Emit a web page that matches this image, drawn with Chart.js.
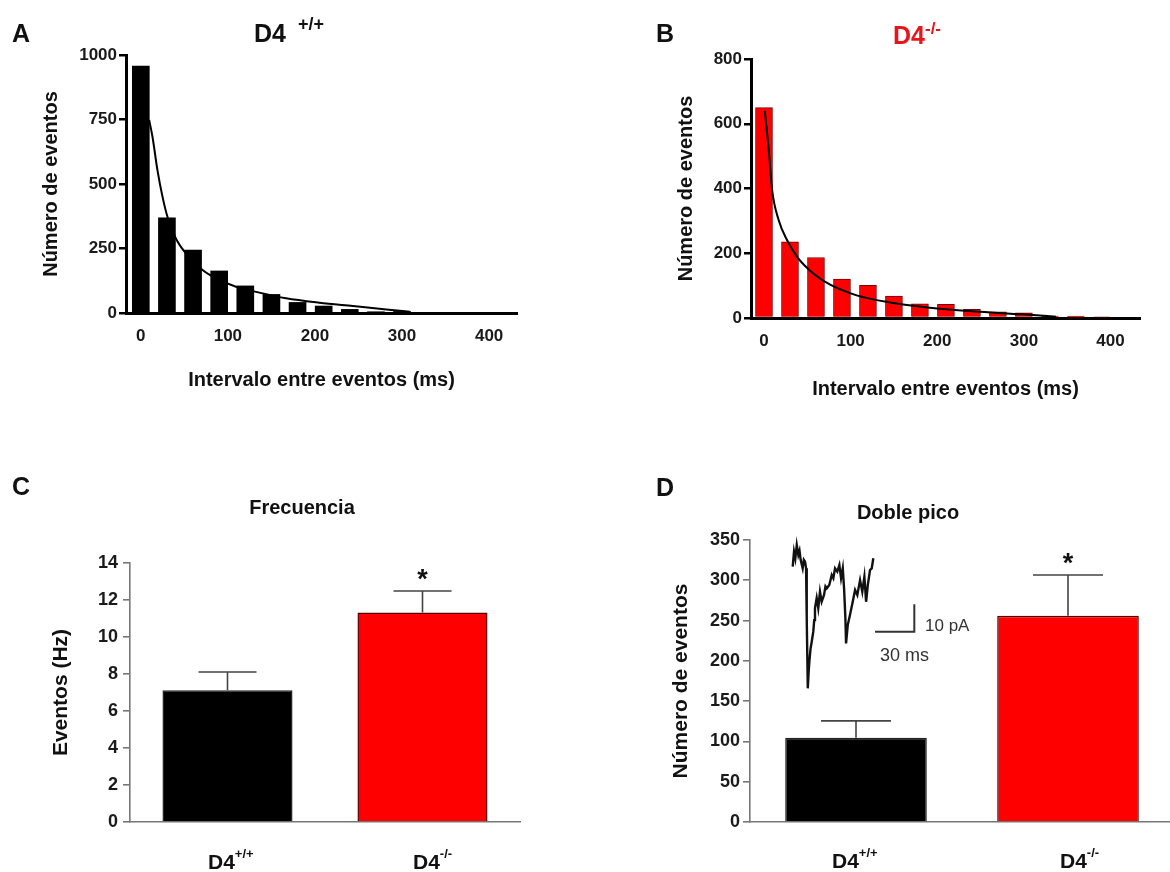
<!DOCTYPE html>
<html>
<head>
<meta charset="utf-8">
<script src="https://cdn.jsdelivr.net/npm/chart.js@4.4.1/dist/chart.umd.min.js"></script>
<style>
html, body { margin: 0; padding: 0; background: #fff; overflow: hidden; width: 1170px; height: 872px; }
body { position: relative; font-family: "Liberation Sans", Arial, sans-serif; color: #111; }
.box { position: absolute; }
.t { position: absolute; font-weight: bold; line-height: 1; white-space: nowrap; }
.t .sup { position: relative; }
</style>
</head>
<body>
<div class="box" style="left:0;top:0;width:580px;height:420px"><canvas id="chartA"></canvas></div>
<div class="box" style="left:585px;top:0;width:585px;height:420px"><canvas id="chartB"></canvas></div>
<div class="box" style="left:0;top:430px;width:580px;height:442px"><canvas id="chartC"></canvas></div>
<div class="box" style="left:585px;top:430px;width:600px;height:442px"><canvas id="chartD"></canvas></div>
<div class="box" style="left:780px;top:535px;width:160px;height:165px"><canvas id="chartTrace"></canvas></div>

<!-- panel letters -->
<div class="t" style="left:12px;top:21px;font-size:25px">A</div>
<div class="t" style="left:656px;top:21px;font-size:25px">B</div>
<div class="t" style="left:12px;top:474px;font-size:25px">C</div>
<div class="t" style="left:656px;top:475px;font-size:25px">D</div>

<!-- panel titles -->
<div class="t" style="left:254px;top:21px;font-size:25px">D4<span class="sup" style="font-size:18px;top:-12px;margin-left:12px">+/+</span></div>
<div class="t" style="left:893px;top:23px;font-size:25px;color:#e8161b">D4<span class="sup" style="font-size:17px;top:-10px">-/-</span></div>
<div class="t" style="left:202px;top:497px;width:200px;text-align:center;font-size:20px">Frecuencia</div>
<div class="t" style="left:808px;top:502px;width:200px;text-align:center;font-size:20px">Doble pico</div>

<!-- group labels -->
<div class="t" style="left:208px;top:851px;font-size:21px">D4<span class="sup" style="font-size:13px;top:-11px">+/+</span></div>
<div class="t" style="left:413px;top:851px;font-size:21px">D4<span class="sup" style="font-size:13px;top:-11px">-/-</span></div>
<div class="t" style="left:832px;top:850px;font-size:21px">D4<span class="sup" style="font-size:13px;top:-11px">+/+</span></div>
<div class="t" style="left:1060px;top:850px;font-size:21px">D4<span class="sup" style="font-size:13px;top:-11px">-/-</span></div>

<!-- inset scale bar labels -->
<div class="t" style="left:925px;top:617px;font-size:17px;font-weight:normal;color:#333">10 pA</div>
<div class="t" style="left:880px;top:646px;font-size:18px;font-weight:normal;color:#333">30 ms</div>

<script>
// A: interval histogram, D4+/+
const binsA = [0, 30, 60, 90, 120, 150, 180, 210, 240, 270, 300];
const countsA = [957, 369, 244, 163, 105, 72, 41, 27, 14, 4, 6];
const fitMsA = [9.6, 13.4, 19.1, 24.9, 30.6, 40.3, 51.8, 70.9, 90.1, 109.3, 136, 166.9, 205, 243.5, 282, 308.7];
const fitNA = [748, 683, 554, 451, 373, 289, 231, 167, 128, 102, 79, 57, 40, 27, 14, 5];
const yTicksA = [0, 250, 500, 750, 1000];

// B: interval histogram, D4-/-
const binsB = [0, 30, 60, 90, 120, 150, 180, 210, 240, 270, 300, 330, 360, 390];
const countsB = [650, 235, 187, 120, 101, 68, 44, 42, 27, 19, 16, 6, 6, 3];
const fitMsB = [0.9, 5.5, 9.4, 17, 26.7, 38.2, 57.2, 76.4, 107, 145.4, 191.4, 248.9, 306.3, 337];
const fitNB = [640, 519, 395, 302, 240, 189, 137, 103, 70, 48, 32, 19, 10, 4];
const yTicksB = [0, 200, 400, 600, 800];

const xTicksHist = [0, 100, 200, 300, 400];

// C: frequency
const groups = ['D4+/+', 'D4-/-'];
const freqMean = [7.12, 11.32];
const freqSem = [0.99, 1.17];
const signif = ['', '*'];

// D: double peak events
const doubleMean = [104.5, 256];
const doubleSem = [21, 50.5];

// D inset: example trace (ms, pA) and scale bar
const traceT = [0, 1.0, 2.0, 3.1, 4.3, 5.2, 6.1, 7.6, 8.5, 9.4, 10.2, 10.7, 11.5, 12.2, 12.7, 13.6, 14.5, 15.7, 16.4, 17.0, 18.3, 19.5, 20.8, 22.1, 23.9, 25.0, 26.0, 27.9, 29.8, 31.0, 32.3, 34.0, 35.6, 36.9, 38.2, 39.2, 40.2, 40.7, 42.0, 43.7, 45.8, 47.6, 49.3, 51.4, 53.1, 54.7, 56.0, 57.3, 59.0, 60.3, 61.5];
const traceI = [0, 5.5, 3.0, 7.9, 4.3, 5.8, 2.4, -0.6, 2.5, 1.8, -0.6, -18.7, -44.4, -38.0, -34.7, -30.0, -27.4, -23.7, -19.5, -15.1, -11.4, -15.1, -9.1, -12.8, -10.3, -7.2, -7.9, -6.7, -3.0, -4.2, -0.6, -1.8, 0.6, -4.2, -0.6, -7.9, -18.8, -28.0, -21.3, -17.6, -12.8, -8.5, -10.3, -4.9, -9.1, -3.6, -12.8, -6.7, -1.2, -0.6, 3.1];
const scaleBarT = [62.8, 92.8, 92.8];
const scaleBarI = [-23.7, -23.7, -13.7];

const FONT = '"Liberation Sans", Arial, sans-serif';
Chart.defaults.font.family = FONT;
Chart.defaults.color = '#1a1a1a';

const pts = (xs, ys) => xs.map((x, i) => ({ x: x, y: ys[i] }));
const fixTicks = vals => scale => { scale.ticks = vals.map(v => ({ value: v })); };

// error bars + significance marks on the bar dataset
const errorBars = {
    id: 'errorBars',
    afterDatasetsDraw(chart, args, opts) {
        if (!opts.errors) return;
        const meta = chart.getDatasetMeta(0);
        const vals = chart.data.datasets[0].data;
        const y = chart.scales.y;
        const ctx = chart.ctx;
        ctx.save();
        ctx.strokeStyle = opts.color;
        ctx.lineWidth = opts.width;
        meta.data.forEach((bar, i) => {
            const top = y.getPixelForValue(vals[i] + opts.errors[i]);
            ctx.beginPath();
            ctx.moveTo(bar.x, bar.y);
            ctx.lineTo(bar.x, top);
            ctx.moveTo(bar.x - opts.cap, top);
            ctx.lineTo(bar.x + opts.cap, top);
            ctx.stroke();
            if (opts.marks[i]) {
                ctx.fillStyle = '#111';
                ctx.font = 'bold 27px ' + FONT;
                ctx.textAlign = 'center';
                ctx.textBaseline = 'alphabetic';
                ctx.fillText(opts.marks[i], bar.x, top - 3);
            }
        });
        ctx.restore();
    }
};
Chart.register(errorBars);

function histogram(id, bins, counts, fitMs, fitN, yTicks, ymax, fill, edge, lay) {
    return new Chart(document.getElementById(id), {
        type: 'bar',
        data: {
            datasets: [
                {
                    type: 'line',
                    data: pts(fitMs, fitN),
                    borderColor: '#000',
                    borderWidth: 2,
                    pointRadius: 0,
                    cubicInterpolationMode: 'monotone',
                    order: 0
                },
                {
                    data: pts(bins, counts),
                    backgroundColor: fill,
                    borderColor: edge,
                    borderWidth: edge ? 1 : 0,
                    barThickness: 17,
                    order: 1
                }
            ]
        },
        options: {
            animation: false,
            responsive: true,
            maintainAspectRatio: false,
            layout: { padding: { left: 0, top: lay.top, right: lay.right, bottom: 0 } },
            plugins: { legend: { display: false }, tooltip: { enabled: false } },
            scales: {
                x: {
                    type: 'linear',
                    min: lay.xmin,
                    max: lay.xmax,
                    offset: false,
                    afterBuildTicks: fixTicks(xTicksHist),
                    afterFit: s => { s.height = lay.xh; },
                    grid: { display: false, offset: false },
                    border: { color: '#000', width: 3 },
                    ticks: { padding: lay.xtp, font: { size: 17, weight: 'bold' }, maxRotation: 0, callback: v => String(v) },
                    title: { display: true, text: 'Intervalo entre eventos (ms)', font: { size: 20, weight: 'bold' }, color: '#111', padding: { top: 0, bottom: lay.xtitle } }
                },
                y: {
                    min: 0,
                    max: ymax,
                    afterBuildTicks: fixTicks(yTicks),
                    afterFit: s => { s.width = lay.yw; },
                    grid: { drawOnChartArea: false, drawTicks: true, tickLength: 7, color: '#000', lineWidth: 2.5 },
                    border: { color: '#000', width: 3 },
                    ticks: { padding: 2, font: { size: 17, weight: 'bold' }, callback: v => String(v) },
                    title: { display: true, text: 'Número de eventos', font: { size: 20, weight: 'bold' }, color: '#111', padding: { top: lay.ytitle, bottom: 0 } }
                }
            }
        }
    });
}

histogram('chartA', binsA, countsA, fitMsA, fitNA, yTicksA, 1000, '#000', null,
    { top: 55, right: 63, xh: 107, yw: 126, xmin: -17, xmax: 432, xtp: 5, xtitle: 28, ytitle: 39 });
histogram('chartB', binsB, countsB, fitMsB, fitNB, yTicksB, 800, '#ff0000', '#7a0000',
    { top: 59, right: 30, xh: 102, yw: 166, xmin: -15, xmax: 434, xtp: 5, xtitle: 19, ytitle: 89 });

function meanBars(id, mean, sem, ymax, step, yTitle, lay) {
    return new Chart(document.getElementById(id), {
        type: 'bar',
        data: {
            labels: groups,
            datasets: [{
                data: mean,
                backgroundColor: ['#000', '#ff0000'],
                borderColor: ['#222', '#5a0000'],
                borderWidth: 1.5,
                barPercentage: lay.bp,
                categoryPercentage: 1
            }]
        },
        options: {
            animation: false,
            responsive: true,
            maintainAspectRatio: false,
            layout: { padding: { left: 0, top: lay.top, right: lay.right, bottom: 0 } },
            plugins: {
                legend: { display: false },
                tooltip: { enabled: false },
                errorBars: { errors: sem, cap: lay.cap, color: '#444', width: 1.6, marks: signif }
            },
            scales: {
                x: {
                    afterFit: s => { s.height = 50; },
                    grid: { display: false },
                    border: { color: '#777', width: 1.6 },
                    ticks: { display: false }
                },
                y: {
                    min: 0,
                    max: ymax,
                    ticks: { stepSize: step, padding: lay.tp, font: { size: 18, weight: 'bold' } },
                    afterFit: s => { s.width = lay.yw; },
                    grid: { drawOnChartArea: false, drawTicks: true, tickLength: 7, color: '#777', lineWidth: 1.6 },
                    border: { color: '#777', width: 1.6 },
                    title: { display: true, text: yTitle, font: { size: 21, weight: 'bold' }, color: '#111', padding: { top: lay.ytitle, bottom: 0 } }
                }
            }
        }
    });
}

meanBars('chartC', freqMean, freqSem, 14, 2, 'Eventos (Hz)',
    { top: 133, right: 60, yw: 130, bp: 0.667, cap: 29, tp: 5, ytitle: 49 });
meanBars('chartD', doubleMean, doubleSem, 350, 50, 'Número de eventos',
    { top: 110, right: 11, yw: 165, bp: 0.668, cap: 35, tp: 3, ytitle: 84 });

// D inset: sample current trace with its scale bar
new Chart(document.getElementById('chartTrace'), {
    type: 'line',
    data: {
        datasets: [
            { data: pts(traceT, traceI), borderColor: '#111', borderWidth: 2.4, pointRadius: 0, tension: 0, clip: false },
            { data: pts(scaleBarT, scaleBarI), borderColor: '#333', borderWidth: 2, pointRadius: 0, tension: 0, clip: false }
        ]
    },
    options: {
        animation: false,
        responsive: true,
        maintainAspectRatio: false,
        layout: { padding: 0 },
        plugins: { legend: { display: false }, tooltip: { enabled: false } },
        scales: {
            x: { type: 'linear', display: false, min: -9.7, max: 112.4 },
            y: { type: 'linear', display: false, min: -48.65, max: 11.57 }
        }
    }
});
</script>
</body>
</html>
